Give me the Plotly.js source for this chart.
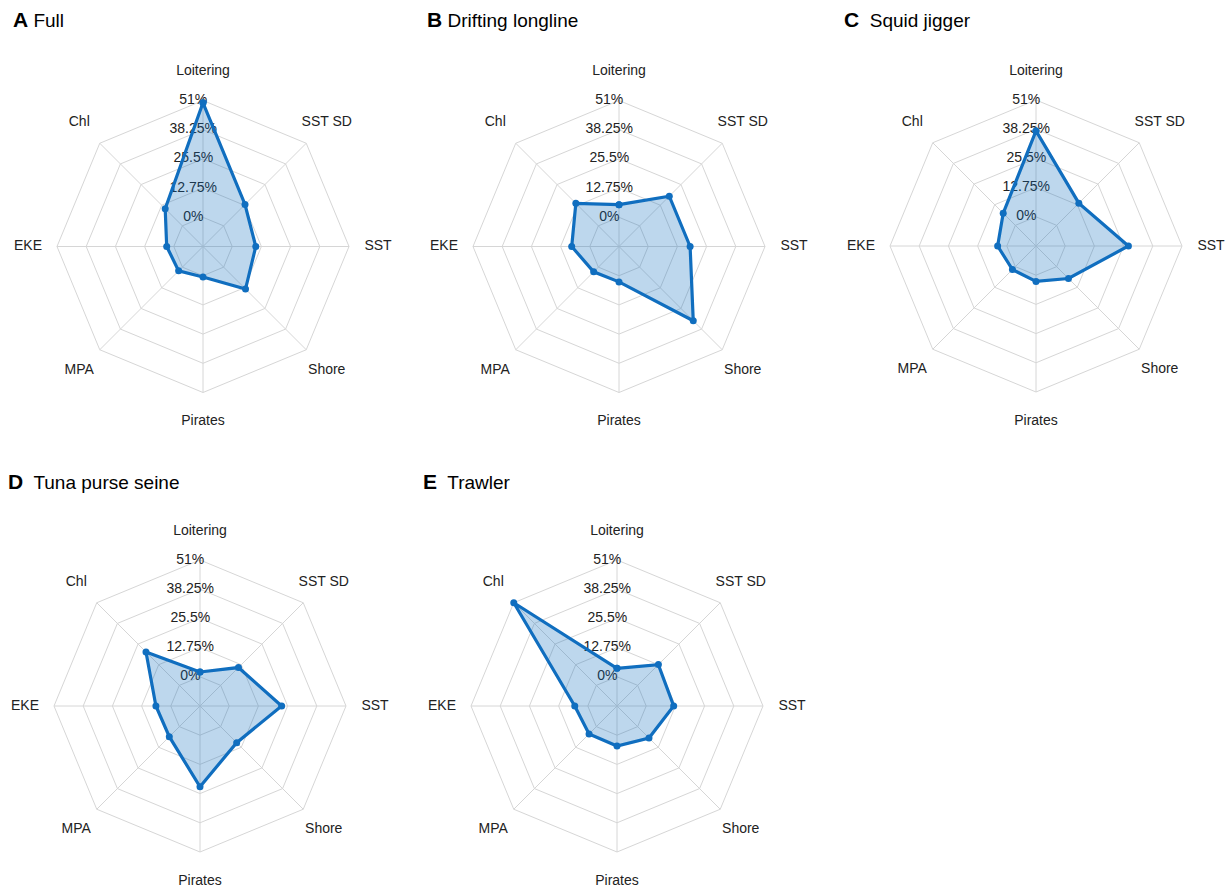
<!DOCTYPE html>
<html>
<head>
<meta charset="utf-8">
<script src="https://cdn.plot.ly/plotly-3.0.1.min.js"></script>
<style>html,body{margin:0;padding:0;background:#fff;}#chart{width:1232px;height:889px;}</style>
</head>
<body>
<div id="chart"></div>
<script>
var categories = ["Loitering", "SST SD", "SST", "Shore", "Pirates", "MPA", "EKE", "Chl"];
var tickValues = [0, 12.75, 25.5, 38.25, 51];
var tickLabels = ["0%", "12.75%", "25.5%", "38.25%", "51%"];
var panelLetters = ["A", "B", "C", "D", "E"];
var panelNames = ["Full", "Drifting longline", "Squid jigger", "Tuna purse seine", "Trawler"];

var fullValues      = [50.0, 13.2, 10.3, 13.5, 0.6, 2.3, 3.1, 10.6];
var longlineValues  = [5.5, 18.3, 18.3, 33.1, 2.7, 2.9, 7.9, 13.9];
var squidValues     = [37.5, 13.7, 27.6, 7.3, 2.7, 1.8, 4.0, 7.5];
var tunaValues      = [2.1, 11.0, 22.9, 9.9, 22.5, 6.2, 6.5, 20.6];
var trawlerValues   = [3.7, 12.8, 12.0, 7.0, 4.7, 4.5, 5.7, 51.0];

var series = [fullValues, longlineValues, squidValues, tunaValues, trawlerValues];

// layout geometry
var W = 1232, H = 889;
var R = 146;        // grid radius (px)
var R2 = 182;       // overlay radius (px), same px-per-unit scale
var rMin = -12.75, rMax = 51;
var rMax2 = rMin + (rMax - rMin) * R2 / R;
var centres = [[203, 246.5], [619, 246.5], [1036, 246], [200, 706], [617, 706]];
var titlePos = [[11, 20], [425, 20], [842, 20], [6, 481], [421, 481]];
var gaps = [" ", " ", "\u00a0 ", "\u00a0 ", "\u00a0 "];
// category labels sit ~29px outside the outer ring
var labelR = rMax + (rMax - rMin) * (29 / R);
var tickPad = "\u00a0\u00a0\u00a0\u00a0\u00a0";

var lineColor = "#106ebf";
var fillColor = "rgba(17,112,192,0.28)";
var gridColor = "#d6d6d6";
var textColor = "#222222";

function domainFor(c, rad) {
  return {
    x: [(c[0] - rad) / W, (c[0] + rad) / W],
    y: [1 - (c[1] + rad) / H, 1 - (c[1] - rad) / H]
  };
}

var traces = [];
var layout = {
  width: W, height: H,
  margin: {l: 0, r: 0, t: 0, b: 0},
  paper_bgcolor: "#fff",
  showlegend: false,
  font: {family: "Liberation Sans, Arial, sans-serif", size: 14, color: textColor},
  annotations: []
};

var n = series.length;
series.forEach(function (vals, i) {
  var gridKey = i === 0 ? "polar" : "polar" + (i + 1);
  var overKey = "polar" + (n + i + 1);
  var c = centres[i];

  // grid-only subplot (needs one trace to render)
  traces.push({
    type: "scatterpolar",
    subplot: gridKey,
    r: [], theta: [],
    mode: "lines",
    hoverinfo: "skip"
  });

  // radial tick labels along the Loitering spoke
  traces.push({
    type: "scatterpolar",
    subplot: overKey,
    r: tickValues,
    theta: tickValues.map(function () { return categories[0]; }),
    mode: "text",
    text: tickLabels.map(function (t) { return t + tickPad; }),
    textposition: "middle center",
    textfont: {size: 14, color: textColor},
    cliponaxis: false,
    hoverinfo: "skip"
  });
  // category labels outside the outer ring
  traces.push({
    type: "scatterpolar",
    subplot: overKey,
    r: categories.map(function () { return labelR; }),
    theta: categories,
    mode: "text",
    text: categories,
    textposition: "middle center",
    textfont: {size: 14, color: textColor},
    cliponaxis: false,
    hoverinfo: "skip"
  });
  // data polygon
  traces.push({
    type: "scatterpolar",
    subplot: overKey,
    r: vals.concat([vals[0]]),
    theta: categories.concat([categories[0]]),
    mode: "lines+markers",
    fill: "toself",
    fillcolor: fillColor,
    line: {color: lineColor, width: 3.2},
    marker: {color: lineColor, size: 7},
    cliponaxis: false,
    hoverinfo: "skip"
  });

  layout[gridKey] = {
    domain: domainFor(c, R),
    bgcolor: "#fff",
    gridshape: "linear",
    radialaxis: {
      range: [rMin, rMax],
      tickvals: tickValues,
      showticklabels: false,
      angle: 90,
      showline: false,
      ticks: "",
      gridcolor: gridColor,
      gridwidth: 1
    },
    angularaxis: {
      type: "category",
      categoryarray: categories,
      direction: "clockwise",
      rotation: 90,
      showline: true,
      linecolor: gridColor,
      linewidth: 1,
      gridcolor: gridColor,
      ticks: "",
      showticklabels: false
    }
  };
  layout[overKey] = {
    domain: domainFor(c, R2),
    bgcolor: "rgba(0,0,0,0)",
    gridshape: "circular",
    radialaxis: {
      range: [rMin, rMax2],
      showgrid: false,
      showline: false,
      showticklabels: false,
      ticks: ""
    },
    angularaxis: {
      type: "category",
      categoryarray: categories,
      direction: "clockwise",
      rotation: 90,
      showgrid: false,
      showline: false,
      showticklabels: false,
      ticks: ""
    }
  };
  layout.annotations.push({
    xref: "paper", yref: "paper",
    x: titlePos[i][0] / W, y: 1 - titlePos[i][1] / H,
    xanchor: "left", yanchor: "middle",
    showarrow: false,
    text: "<b><span style='font-size:21px'>" + panelLetters[i] + "</span></b>" + gaps[i] + panelNames[i],
    font: {size: 19, color: "#000"}
  });
});

Plotly.newPlot("chart", traces, layout, {displayModeBar: false, staticPlot: true});
</script>
</body>
</html>
